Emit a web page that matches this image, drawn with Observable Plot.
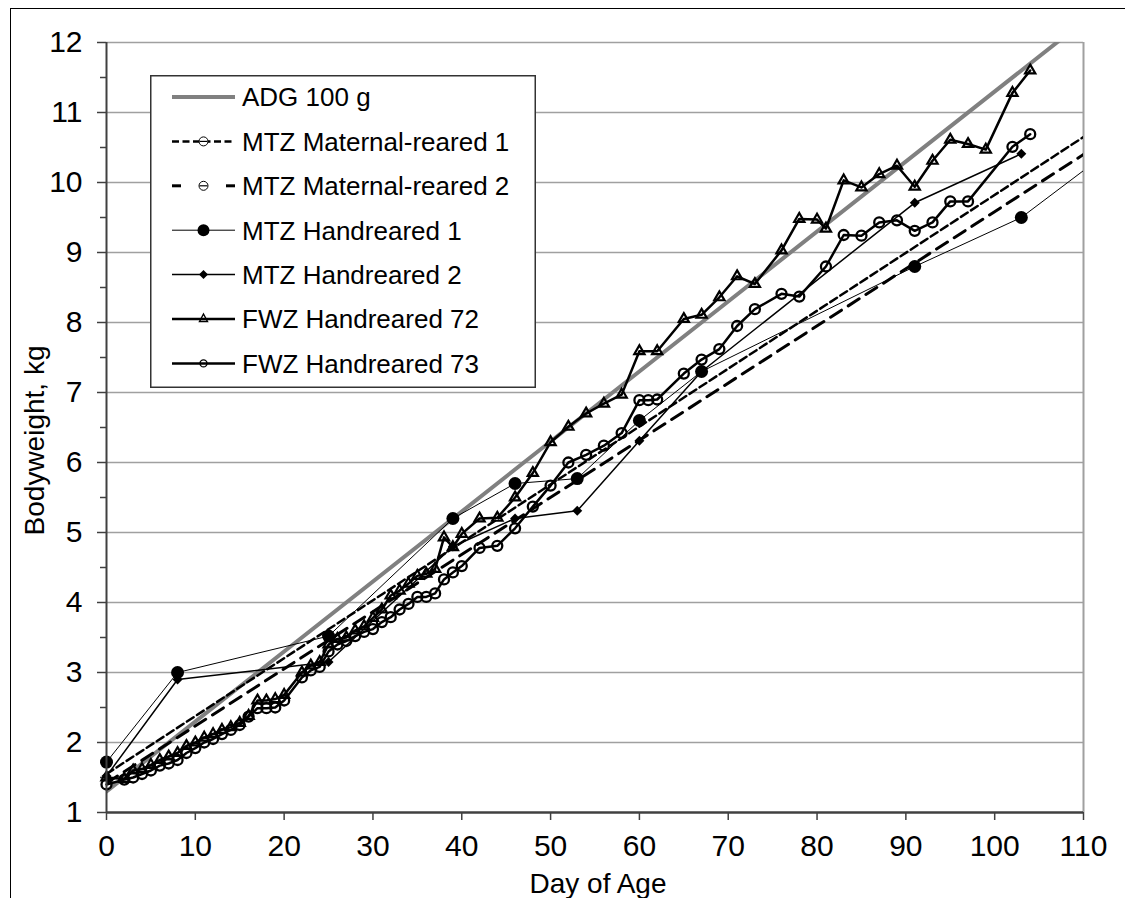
<!DOCTYPE html>
<html>
<head>
<meta charset="utf-8">
<script src="https://cdn.jsdelivr.net/npm/d3@7"></script>
<script src="https://cdn.jsdelivr.net/npm/@observablehq/plot@0.6"></script>
<style>
  body { margin: 0; background: #fff; }
  #wrap { position: relative; width: 1125px; height: 898px; overflow: hidden; background: #fff;
          font-family: "Liberation Sans", Arial, sans-serif; }
  #chart { position: absolute; left: 0; top: 0; }
  #border { position: absolute; left: 10px; top: 8px; width: 2000px; height: 2000px;
            border-top: 1.5px solid #000; border-left: 1.5px solid #000; pointer-events: none; }
  #legend { position: absolute; left: 150px; top: 75px; }
</style>
</head>
<body>
<div id="wrap"><div id="chart"></div><div id="border"></div><div id="legend"></div></div>
<script>
// ---------------- data ----------------
const seriesNames = ["ADG 100 g", "MTZ Maternal-reared 1", "MTZ Maternal-reared 2",
  "MTZ Handreared 1", "MTZ Handreared 2", "FWZ Handreared 72", "FWZ Handreared 73"];
const xTicks = [0, 10, 20, 30, 40, 50, 60, 70, 80, 90, 100, 110];
const yTicks = [1, 2, 3, 4, 5, 6, 7, 8, 9, 10, 11, 12];
const yMinorTicks = [1.5, 2.5, 3.5, 4.5, 5.5, 6.5, 7.5, 8.5, 9.5, 10.5, 11.5];
const xTitle = "Day of Age";
const yTitle = "Bodyweight, kg";

const adgDays = [0, 110];
const adgKg = [1.3, 12.3];

const mr1Days = [0, 110];
const mr1Kg = [1.55, 10.65];

const mr2Days = [0, 110];
const mr2Kg = [1.42, 10.4];

const hr1Days = [0, 8, 25, 39, 46, 53, 60, 67, 91, 103];
const hr1Kg = [1.72, 3.0, 3.52, 5.2, 5.7, 5.77, 6.6, 7.3, 8.8, 9.5];
const hr1TailDays = [110];
const hr1TailKg = [10.17];

const hr2Days = [0, 8, 25, 39, 46, 53, 60, 67, 91, 103];
const hr2Kg = [1.52, 2.9, 3.15, 4.8, 5.2, 5.31, 6.31, 7.3, 9.71, 10.41];

const f72Days = [0, 2, 3, 4, 5, 6, 7, 8, 9, 10, 11, 12, 13, 14, 15, 16, 17, 18, 19, 20,
  22, 23, 24, 25, 26, 27, 28, 29, 30, 31, 32, 33, 34, 35, 36, 37, 38, 39, 40, 42, 44, 46,
  48, 50, 52, 54, 56, 58, 60, 62, 65, 67, 69, 71, 73, 76, 78, 80, 81, 83, 85, 87, 89, 91,
  93, 95, 97, 99, 102, 104];
const f72Kg = [1.5, 1.48, 1.6, 1.62, 1.68, 1.75, 1.8, 1.85, 1.95, 2.0, 2.07, 2.12, 2.18, 2.22, 2.28, 2.38, 2.6, 2.6, 2.62, 2.68,
  3.0, 3.1, 3.15, 3.4, 3.48, 3.5, 3.6, 3.66, 3.78, 3.9, 4.1, 4.17, 4.27, 4.38, 4.41, 4.48, 4.93, 4.79, 4.98, 5.2, 5.21, 5.5,
  5.85, 6.29, 6.51, 6.7, 6.84, 6.97, 7.59, 7.59, 8.05, 8.11, 8.36, 8.66, 8.55, 9.03, 9.48, 9.47, 9.34, 10.03, 9.93, 10.12, 10.24, 9.94,
  10.31, 10.61, 10.55, 10.47, 11.28, 11.6];

const f73Days = [0, 2, 3, 4, 5, 6, 7, 8, 9, 10, 11, 12, 13, 14, 15, 16, 17, 18, 19, 20,
  22, 23, 24, 25, 26, 27, 28, 29, 30, 31, 32, 33, 34, 35, 36, 37, 38, 39, 40, 42, 44, 46,
  48, 50, 52, 54, 56, 58, 60, 61, 62, 65, 67, 69, 71, 73, 76, 78, 81, 83, 85, 87, 89, 91,
  93, 95, 97, 102, 104];
const f73Kg = [1.4, 1.47, 1.5, 1.55, 1.6, 1.67, 1.7, 1.75, 1.85, 1.92, 2.0, 2.05, 2.12, 2.18, 2.25, 2.37, 2.49, 2.49, 2.5, 2.6,
  2.93, 3.03, 3.08, 3.3, 3.4, 3.45, 3.52, 3.58, 3.62, 3.72, 3.79, 3.9, 3.98, 4.08, 4.08, 4.13, 4.33, 4.43, 4.52, 4.78, 4.81, 5.06,
  5.37, 5.67, 6.0, 6.11, 6.24, 6.42, 6.89, 6.89, 6.9, 7.27, 7.47, 7.62, 7.95, 8.19, 8.41, 8.37, 8.8, 9.25, 9.24, 9.43, 9.46, 9.31,
  9.43, 9.73, 9.73, 10.51, 10.69];

// ---------------- chart ----------------
const font = '"Liberation Sans", Arial, sans-serif';
const axisColor = "#404040";
const gridColor = "#a0a0a0";
const fmtInt = d3.format("d");

const hr1LineDays = hr1Days.concat(hr1TailDays);
const hr1LineKg = hr1Kg.concat(hr1TailKg);

const chart = Plot.plot({
  width: 1125,
  height: 898,
  marginLeft: 106,
  marginRight: 42,
  marginTop: 42,
  marginBottom: 86,
  x: { domain: [0, 110], label: null },
  y: { domain: [1, 12], label: null },
  style: { fontFamily: font, fontSize: "30px", color: "#000", background: "none", overflow: "visible" },
  marks: [
    Plot.gridY(yTicks.filter(d => d > 1), { stroke: gridColor, strokeOpacity: 1, strokeWidth: 1.5 }),
    Plot.ruleX([110], { stroke: gridColor, strokeWidth: 2 }),
    Plot.axisY(yMinorTicks, { tickSize: 6, tickFormat: () => "", stroke: axisColor, strokeWidth: 1.5, label: null }),
    Plot.axisY(yTicks, { tickSize: 9, tickPadding: 15, tickFormat: fmtInt, fontSize: 30, stroke: axisColor, strokeWidth: 1.5, label: null, fill: "#000" }),
    Plot.axisX(xTicks, { tickSize: 8, tickPadding: 14, tickFormat: fmtInt, fontSize: 30, stroke: axisColor, strokeWidth: 1.5, label: null, fill: "#000" }),

    // ADG 100 g
    Plot.line(adgDays, { x: adgDays, y: adgKg, stroke: "#808080", strokeWidth: 4, clip: true }),
    // Maternal-reared
    Plot.line(mr1Days, { x: mr1Days, y: mr1Kg, stroke: "#000", strokeWidth: 2.5, strokeDasharray: "8,4", clip: true }),
    Plot.line(mr2Days, { x: mr2Days, y: mr2Kg, stroke: "#000", strokeWidth: 3, strokeDasharray: "13,8", clip: true }),
    // MTZ Handreared 1
    Plot.line(hr1LineDays, { x: hr1LineDays, y: hr1LineKg, stroke: "#000", strokeWidth: 1, clip: true }),
    Plot.dot(hr1Days, { x: hr1Days, y: hr1Kg, r: 6.5, fill: "#000", stroke: "none" }),
    // MTZ Handreared 2
    Plot.line(hr2Days, { x: hr2Days, y: hr2Kg, stroke: "#000", strokeWidth: 1.5 }),
    Plot.dot(hr2Days, { x: hr2Days, y: hr2Kg, symbol: "diamond2", r: 4.5, fill: "#000", stroke: "none" }),
    // FWZ Handreared 72
    Plot.line(f72Days, { x: f72Days, y: f72Kg, stroke: "#000", strokeWidth: 2.5 }),
    Plot.dot(f72Days, { x: f72Days, y: f72Kg, symbol: "triangle", r: 3.8, fill: "none", stroke: "#000", strokeWidth: 2.2 }),
    // FWZ Handreared 73
    Plot.line(f73Days, { x: f73Days, y: f73Kg, stroke: "#000", strokeWidth: 2.5 }),
    Plot.dot(f73Days, { x: f73Days, y: f73Kg, r: 5, fill: "none", stroke: "#000", strokeWidth: 2.3 }),

    // axis lines
    Plot.ruleX([0], { stroke: axisColor, strokeWidth: 2 }),
    Plot.ruleY([1], { stroke: axisColor, strokeWidth: 2.5 }),

    // axis titles
    Plot.text([yTitle], { frameAnchor: "left", textAnchor: "middle", lineAnchor: "middle", rotate: -90, dx: -71, dy: 13, fontSize: 28, fill: "#000" }),
    Plot.text([xTitle], { frameAnchor: "bottom", textAnchor: "middle", lineAnchor: "middle", dx: 3, dy: 72, fontSize: 28, fill: "#000" })
  ]
});
document.getElementById("chart").appendChild(chart);

// ---------------- legend ----------------
const L = d3.create("svg").attr("width", 386).attr("height", 313).style("display", "block")
  .style("font-family", font);
L.append("rect").attr("x", 0.75).attr("y", 0.75).attr("width", 384.5).attr("height", 311.5)
  .attr("fill", "#fff").attr("stroke", "#333").attr("stroke-width", 1.5);
const sx0 = 22, sx1 = 85, mx = 53.5, tx = 92;
seriesNames.forEach((name, i) => {
  const cy = 22 + i * 44.4;
  const g = L.append("g");
  const line = (x0, x1, w, dash, col) => {
    const l = g.append("line").attr("x1", x0).attr("x2", x1).attr("y1", cy).attr("y2", cy)
      .attr("stroke", col || "#000").attr("stroke-width", w);
    if (dash) l.attr("stroke-dasharray", dash);
  };
  if (i === 0) line(sx0, sx1, 4, null, "#808080");
  if (i === 1) {
    line(sx0, sx1, 2.5, "7,3.5");
    g.append("circle").attr("cx", mx).attr("cy", cy).attr("r", 4.5).attr("fill", "#fff").attr("stroke", "#000").attr("stroke-width", 1);
    line(mx - 4, mx + 4, 1.2);
  }
  if (i === 2) {
    line(sx0, sx0 + 9, 3);
    line(sx1 - 9, sx1, 3);
    g.append("circle").attr("cx", mx).attr("cy", cy).attr("r", 4.5).attr("fill", "#fff").attr("stroke", "#000").attr("stroke-width", 1);
    line(mx - 4, mx + 4, 1.2);
  }
  if (i === 3) {
    line(sx0, sx1, 1);
    g.append("circle").attr("cx", mx).attr("cy", cy).attr("r", 6).attr("fill", "#000");
  }
  if (i === 4) {
    line(sx0, sx1, 1.5);
    g.append("path").attr("d", `M${mx},${cy - 4.5}L${mx + 4.5},${cy}L${mx},${cy + 4.5}L${mx - 4.5},${cy}Z`).attr("fill", "#000");
  }
  if (i === 5) {
    line(sx0, sx1, 2.5);
    g.append("path").attr("d", `M${mx},${cy - 5}L${mx + 4},${cy + 2.5}L${mx - 4},${cy + 2.5}Z`)
      .attr("fill", "none").attr("stroke", "#000").attr("stroke-width", 1.4);
  }
  if (i === 6) {
    line(sx0, sx1, 2.5);
    g.append("circle").attr("cx", mx).attr("cy", cy).attr("r", 3.5).attr("fill", "none").attr("stroke", "#000").attr("stroke-width", 1.4);
  }
  g.append("text").attr("x", tx).attr("y", cy).attr("dy", "0.36em").attr("font-size", 26)
    .attr("fill", "#000").text(name);
});
document.getElementById("legend").appendChild(L.node());
</script>
</body>
</html>
